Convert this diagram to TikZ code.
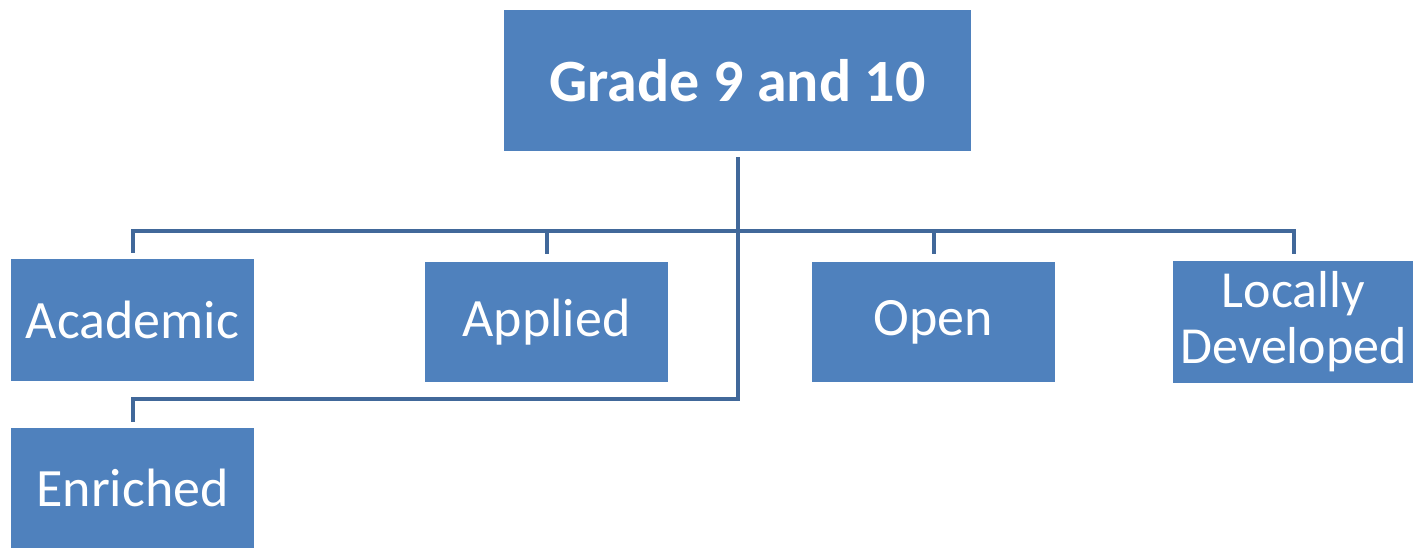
\documentclass[tikz,border=0pt]{standalone}
\usepackage{fontspec}
\setmainfont{Carlito}
\definecolor{boxblue}{HTML}{4F81BD}
\definecolor{connblue}{HTML}{41689A}
\begin{document}
\begin{tikzpicture}[x=1pt,y=1pt,
  box/.style={fill=boxblue, draw=none, text=white, inner sep=0pt, align=center,
    font=\fontsize{54}{57}\selectfont},
  conn/.style={draw=connblue, line width=4pt}]
\useasboundingbox (0,0) rectangle (1413,-547);
\node[box, minimum width=467pt, minimum height=141pt, font=\fontsize{60}{64}\selectfont\bfseries] (top) at (737.5,-80.5) {Grade 9 and 10};
\node[box, minimum width=243pt, minimum height=122pt] (acad) at (132.5,-320) {Academic};
\node[box, minimum width=243pt, minimum height=120pt] (appl) at (546.5,-322) {Applied};
\node[box, minimum width=243pt, minimum height=120pt] (open) at (933.5,-322) {Open};
\node[box, minimum width=241pt, minimum height=122pt, font=\fontsize{52}{56}\selectfont] (loc) at (1293.5,-322) {Locally\\Developed};
\node[box, minimum width=243pt, minimum height=120pt] (enr) at (132.5,-488) {Enriched};
\draw[conn] ([yshift=-6pt]top.south) -- ++(0,-74) -| ([yshift=6pt]acad.north);
\draw[conn] ([yshift=-6pt]top.south) -- ++(0,-74) -| ([yshift=8pt]appl.north);
\draw[conn] ([yshift=-6pt]top.south) -- ++(0,-74) -| ([yshift=8pt]open.north);
\draw[conn] ([yshift=-6pt]top.south) -- ++(0,-74) -| ([yshift=7pt]loc.north);
\draw[conn] ([yshift=-6pt]top.south) -- ++(0,-242) -| ([yshift=6pt]enr.north);
\end{tikzpicture}
\end{document}
